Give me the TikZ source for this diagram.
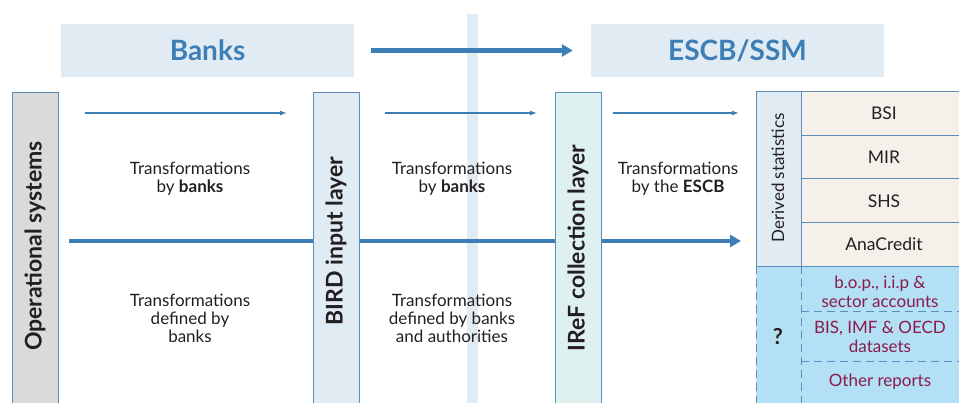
\documentclass[tikz,border=0pt]{standalone}
\usepackage{fontspec}
\setmainfont{Lato}
\usetikzlibrary{positioning,arrows.meta}
\definecolor{arrowblue}{HTML}{3D7EB6}
\definecolor{boxblue}{HTML}{5A8EBF}
\definecolor{headfill}{HTML}{E1EBF4}
\definecolor{opsfill}{HTML}{DADADA}
\definecolor{ireffill}{HTML}{DFF0F0}
\definecolor{cellfill}{HTML}{F5F1EA}
\definecolor{otherfill}{HTML}{B3E0F4}
\definecolor{maroon}{HTML}{8A1B4B}
\definecolor{textdark}{HTML}{231F20}
\tikzset{
  headbox/.style={fill=headfill, minimum width=293pt, minimum height=53pt, inner sep=0pt,
    text=arrowblue, font=\fontsize{28}{32}\selectfont\bfseries},
  layerbox/.style={draw=boxblue, line width=1.2pt, minimum width=46pt, minimum height=330pt,
    anchor=north west, inner sep=0pt},
  layertext/.style={rotate=90, text=textdark, font=\fontsize{23}{26}\selectfont\bfseries},
  transtext/.style={align=center, text=textdark, font=\fontsize{17}{18}\selectfont},
  cell/.style={draw=boxblue, line width=1pt, fill=cellfill, minimum width=165pt, minimum height=43.75pt,
    anchor=north west, inner sep=0pt, text=textdark, font=\fontsize{17.5}{18}\selectfont},
  othertext/.style={align=center, text=maroon, font=\fontsize{17}{19}\selectfont},
  thinarrow/.style={draw=arrowblue, line width=1.3pt, -{Latex[length=7pt,width=5pt]}},
  bigarrow/.style={draw=arrowblue, line width=4.5pt, -{Triangle[length=11pt,width=12pt]}},
  dashline/.style={draw=boxblue, line width=1pt, dash pattern=on 8pt off 5pt}
}
\begin{document}
\begin{tikzpicture}[x=1pt,y=-1pt]
\useasboundingbox (0,0) rectangle (959,403);
% background stripe
\fill[headfill] (467,14) rectangle (478,403);
% header
\node[headbox] (banks) at (207.5,50.5) {Banks};
\node[headbox] (escb) at (737.5,50.5) {ESCB/SSM};
\draw[bigarrow, shorten <=17pt, shorten >=18pt] (banks) -- (escb);
% main flow
\coordinate (flowstart) at (69,241);
\coordinate (flowend) at (741,241);
\draw[bigarrow] (flowstart) -- (flowend);
% layers
\node[layerbox, fill=opsfill] (ops) at (12,92) {};
\node[layerbox, fill=headfill] (bird) at (313,92) {};
\node[layerbox, fill=ireffill] (iref) at (555,92) {};
\node[layertext] (opstext) at (35,246) {Operational systems};
\node[layertext] (birdtext) at (336,241) {BIRD input layer};
\node[layertext] (ireftext) at (578,248) {IReF collection layer};
% thin arrows
\coordinate (a1) at (85,113);
\coordinate (b1) at (287,113);
\coordinate (a2) at (385,113);
\coordinate (b2) at (537,113);
\coordinate (a3) at (613,113);
\coordinate (b3) at (739,113);
\draw[thinarrow] (a1) -- (b1);
\draw[thinarrow] (a2) -- (b2);
\draw[thinarrow] (a3) -- (b3);
% transformations
\node[transtext] (tr1) at (190,179) {Transformations\\by \textbf{banks}};
\node[transtext] (tr2) at (452,179) {Transformations\\by \textbf{banks}};
\node[transtext] (tr3) at (678,179) {Transformations\\by the \textbf{ESCB}};
\node[transtext] (def1) at (190,318) {Transformations\\defined by\\banks};
\node[transtext] (def2) at (452,318) {Transformations\\defined by banks\\and authorities};
% other outputs
\fill[otherfill] (756,266) rectangle (965,410);
\draw[dashline] (756,266) -- (965,266);
\draw[dashline] (756,266) -- (756,410);
\draw[dashline] (801,266) -- (801,410);
\draw[dashline] (801,312) -- (965,312);
\draw[dashline] (801,362) -- (965,362);
\node[text=textdark, font=\fontsize{22}{26}\selectfont\bfseries] (unknown) at (778,337) {?};
\node[othertext] (bop) at (880,292) {b.o.p., i.i.p \&\\sector accounts};
\node[othertext] (bis) at (880,337) {BIS, IMF \& OECD\\datasets};
\node[othertext] (rep) at (880,382) {Other reports};
% derived statistics
\node[draw=boxblue, line width=1pt, fill=headfill, minimum width=45pt, minimum height=175pt,
  anchor=north west, inner sep=0pt] (derived) at (756,91) {};
\node[rotate=90, text=textdark, font=\fontsize{17}{19}\selectfont] (derivedtext) at (778,178) {Derived statistics};
\node[cell] (bsi) at (801,91) {BSI};
\node[cell] (mir) at (801,134.75) {MIR};
\node[cell] (shs) at (801,178.5) {SHS};
\node[cell] (ana) at (801,222.25) {AnaCredit};
\end{tikzpicture}
\end{document}
